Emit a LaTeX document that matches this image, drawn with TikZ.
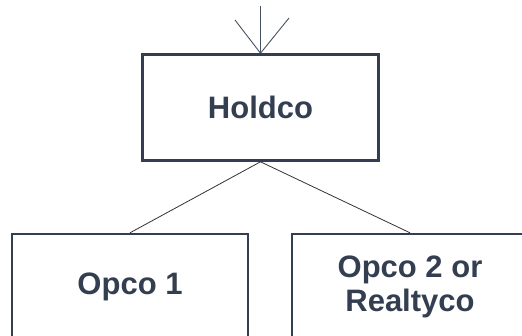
\documentclass[tikz,border=0pt]{standalone}
\usepackage{fontspec}
\setmainfont{Liberation Sans}
\usepackage{xcolor}
\usepackage{tikz}
\usetikzlibrary{positioning}

\definecolor{slate}{HTML}{333F50}

\begin{document}
\begin{tikzpicture}[
        x=1pt, y=1pt,
        entity/.style={draw=slate, line width=2.6pt, minimum width=236pt, minimum height=106pt,
            align=center, text=slate, font=\fontsize{31}{34}\selectfont\bfseries},
        link/.style={line width=0.8pt, draw=black!80},
        owner/.style={line width=0.9pt, draw=slate!90}
    ]
        \useasboundingbox (0,0) rectangle (522,-335);

        \node[entity] (holdco) at (260.5,-107.5) {Holdco};
        \node[entity, below=71pt of holdco, xshift=-130.5pt] (opco) {Opco 1};
        \node[entity, below=71pt of holdco, xshift=149.5pt] (realtyco) {Opco 2 or\\Realtyco};

        % owners coming in from above
        \coordinate (ownerA) at (235,-20);
        \coordinate (ownerB) at (260.5,-6);
        \coordinate (ownerC) at (289,-18);
        \draw[owner] (ownerA) -- (holdco.north);
        \draw[owner] (ownerB) -- (holdco.north);
        \draw[owner] (ownerC) -- (holdco.north);

        \draw[link] (holdco.south) -- (opco.north);
        \draw[link] (holdco.south) -- (realtyco.north);
    \end{tikzpicture}
\end{document}
